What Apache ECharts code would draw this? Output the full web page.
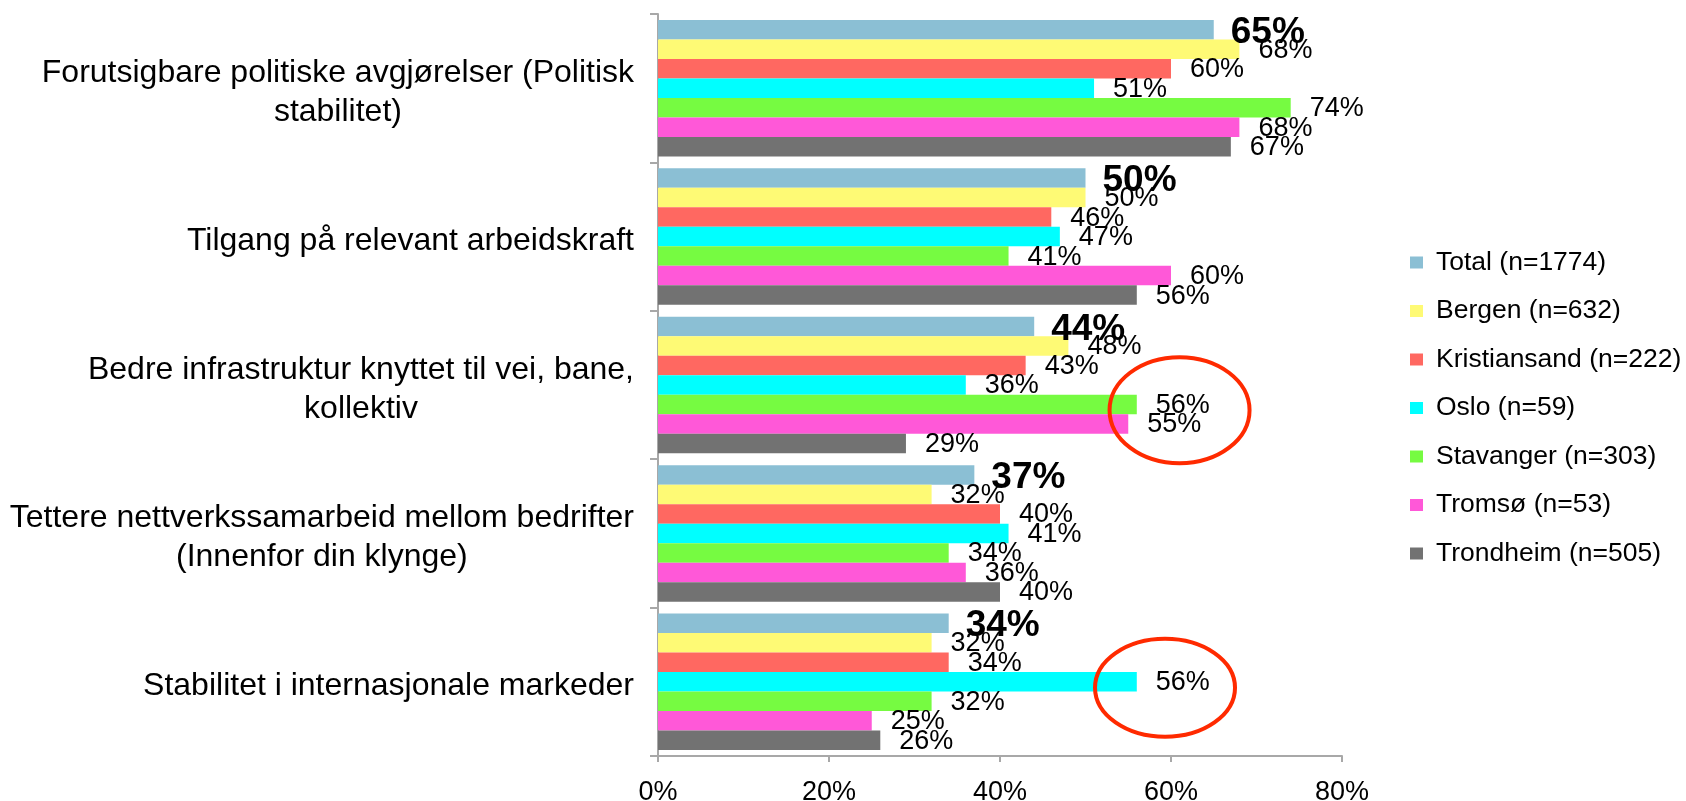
<!DOCTYPE html>
<html>

<head>
    <title>Faktorer - horisontalt stolpediagram</title>
    <meta charset="utf-8">
    <script src="https://cdn.jsdelivr.net/npm/echarts@6/dist/echarts.min.js"></script>
    <style>
        html, body { margin: 0; padding: 0; background: #fff; }
    </style>
</head>

<body>
    <!-- chart container, same size as the window -->
    <div id="main" style="width: 1686px;height:801px;"></div>

    <script type="text/javascript">
        // categories (top to bottom)
        var categories = [
            'Forutsigbare politiske avgjørelser (Politisk\nstabilitet)',
            'Tilgang på relevant arbeidskraft',
            'Bedre infrastruktur knyttet til vei, bane,\nkollektiv',
            'Tettere nettverkssamarbeid mellom bedrifter\n(Innenfor din klynge)',
            'Stabilitet i internasjonale markeder'
        ];

        // series names, as in the legend
        var seriesNames = ['Total (n=1774)', 'Bergen (n=632)', 'Kristiansand (n=222)', 'Oslo (n=59)',
            'Stavanger (n=303)', 'Tromsø (n=53)', 'Trondheim (n=505)'];

        // values in percent, one array per series
        var total = [65, 50, 44, 37, 34];
        var bergen = [68, 50, 48, 32, 32];
        var kristiansand = [60, 46, 43, 40, 34];
        var oslo = [51, 47, 36, 41, 56];
        var stavanger = [74, 41, 56, 34, 32];
        var tromso = [68, 60, 55, 36, 25];
        var trondheim = [67, 56, 29, 40, 26];

        var colors = ['#8bbfd4', '#fefa75', '#ff6861', '#00ffff', '#76fb41', '#ff58d8', '#727272'];

        // x axis ticks (percent)
        var xTicks = [0, 20, 40, 60, 80];

        // red circles: [category index, value in %]
        var circled = [[2, 61], [4, 59.3]];

        var font = '"Liberation Sans", Arial, Helvetica, sans-serif';
        var allValues = [total, bergen, kristiansand, oslo, stavanger, tromso, trondheim];

        var myChart = echarts.init(document.getElementById('main'));

        var series = allValues.map(function (vals, i) {
            var isTotal = i === 0;
            return {
                name: seriesNames[i],
                type: 'bar',
                data: vals,
                barGap: '0%',
                barCategoryGap: '8%',
                itemStyle: { color: colors[i] },
                label: {
                    show: true,
                    position: 'right',
                    distance: isTotal ? 17 : 19,
                    offset: isTotal ? [0, 3] : [0, 1],
                    formatter: '{c}%',
                    color: '#000',
                    fontFamily: font,
                    fontSize: isTotal ? 37 : 27,
                    fontWeight: isTotal ? 'bold' : 'normal'
                }
            };
        });

        var option = {
            animation: false,
            backgroundColor: '#fff',
            legend: {
                orient: 'vertical',
                left: 1405,
                top: 244,
                itemWidth: 13,
                itemHeight: 12,
                itemGap: 21.5,
                icon: 'rect',
                data: seriesNames,
                textStyle: {
                    fontFamily: font,
                    fontSize: 26.5,
                    lineHeight: 25,
                    padding: [0, 0, 0, 8],
                    color: '#000'
                }
            },
            grid: {
                left: 658,
                top: 14,
                width: 684,
                height: 742,
                outerBoundsMode: 'none'
            },
            xAxis: {
                type: 'value',
                min: xTicks[0],
                max: xTicks[xTicks.length - 1],
                interval: xTicks[1] - xTicks[0],
                axisLine: { show: true, lineStyle: { color: '#a8a8a8', width: 2 } },
                axisTick: { show: true, length: 6, lineStyle: { color: '#a8a8a8', width: 2 } },
                splitLine: { show: false },
                axisLabel: {
                    formatter: '{value}%',
                    margin: 23,
                    color: '#000',
                    fontFamily: font,
                    fontSize: 27
                }
            },
            yAxis: {
                type: 'category',
                data: categories,
                inverse: true,
                axisLine: { show: true, lineStyle: { color: '#a8a8a8', width: 2 } },
                axisTick: { show: true, length: 8, lineStyle: { color: '#a8a8a8', width: 2 } },
                axisLabel: {
                    margin: 24,
                    align: 'right',
                    padding: [9, 0, 0, 0],
                    // centre each line of the label inside its block
                    formatter: function (v) {
                        return v.split('\n').map(function (l) { return '{c|' + l + '}'; }).join('\n');
                    },
                    rich: {
                        c: {
                            align: 'center',
                            color: '#000',
                            fontFamily: font,
                            fontSize: 32,
                            lineHeight: 39
                        }
                    }
                }
            },
            series: series
        };

        myChart.setOption(option);

        // annotation ellipses, placed through the axes
        var band = myChart.convertToPixel({ yAxisIndex: 0 }, categories[1]) - myChart.convertToPixel({ yAxisIndex: 0 }, categories[0]);
        var shapes = circled.map(function (c, k) {
            var cx = myChart.convertToPixel({ xAxisIndex: 0 }, c[1]);
            var cy = myChart.convertToPixel({ yAxisIndex: 0 }, categories[c[0]]) + (k === 0 ? 0.17 : 0.04) * band;
            return {
                type: 'ellipse',
                shape: { cx: cx, cy: cy, rx: 70, ry: k === 0 ? 53 : 49 },
                style: { fill: 'none', stroke: '#ff2a00', lineWidth: 4 },
                z: 100
            };
        });
        myChart.setOption({ graphic: shapes });
    </script>
</body>

</html>
